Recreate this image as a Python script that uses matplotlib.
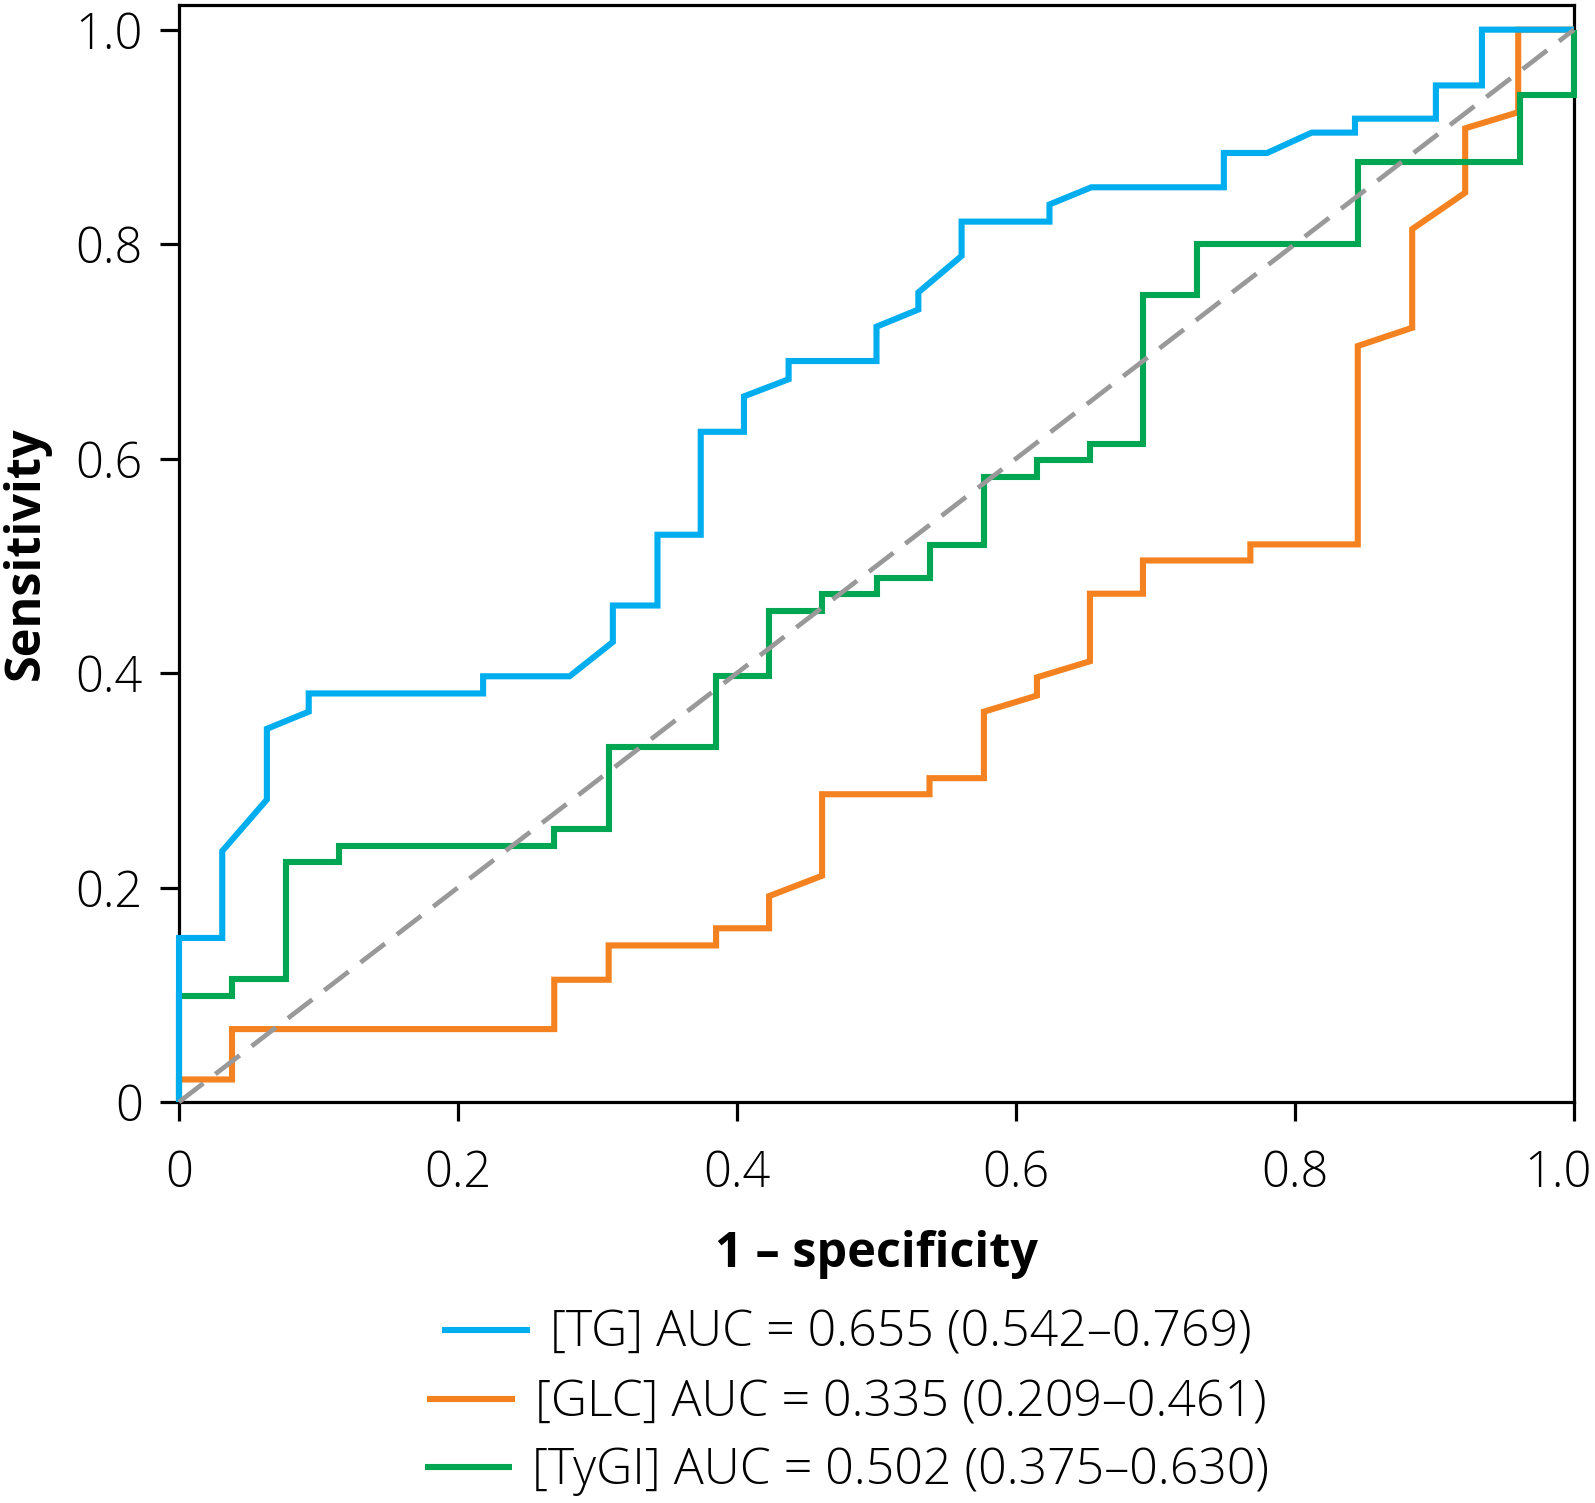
import matplotlib
matplotlib.use("Agg")
import matplotlib.pyplot as plt
from matplotlib.lines import Line2D
from matplotlib.ticker import FuncFormatter
import matplotlib.transforms as mtransforms

# ---------------- data ----------------
tg_fpr = [0, 0, 0.031, 0.031, 0.063, 0.063, 0.093, 0.093, 0.218, 0.218, 0.280,
          0.311, 0.311, 0.343, 0.343, 0.374, 0.374, 0.405, 0.405, 0.437, 0.437,
          0.500, 0.500, 0.530, 0.530, 0.561, 0.561, 0.624, 0.624, 0.654, 0.749,
          0.749, 0.780, 0.812, 0.843, 0.843, 0.901, 0.901, 0.934, 0.934, 1.0]
tg_tpr = [0, 0.153, 0.153, 0.234, 0.282, 0.348, 0.364, 0.381, 0.381, 0.397, 0.397,
          0.429, 0.463, 0.463, 0.529, 0.529, 0.625, 0.625, 0.658, 0.674, 0.691,
          0.691, 0.723, 0.739, 0.755, 0.789, 0.821, 0.821, 0.837, 0.853, 0.853,
          0.885, 0.885, 0.904, 0.904, 0.917, 0.917, 0.948, 0.948, 1.0, 1.0]

glc_fpr = [0, 0, 0.038, 0.038, 0.269, 0.269, 0.308, 0.308, 0.385, 0.385, 0.423,
           0.423, 0.461, 0.461, 0.538, 0.538, 0.577, 0.577, 0.615, 0.615, 0.653,
           0.653, 0.691, 0.691, 0.768, 0.768, 0.845, 0.845, 0.884, 0.884, 0.922,
           0.922, 0.960, 0.960, 1.0]
glc_tpr = [0, 0.021, 0.021, 0.068, 0.068, 0.114, 0.114, 0.146, 0.146, 0.162, 0.162,
           0.192, 0.211, 0.287, 0.287, 0.302, 0.302, 0.364, 0.379, 0.396, 0.411,
           0.474, 0.474, 0.505, 0.505, 0.520, 0.520, 0.705, 0.722, 0.814, 0.848,
           0.908, 0.923, 1.0, 1.0]

tygi_fpr = [0, 0, 0.038, 0.038, 0.077, 0.077, 0.115, 0.115, 0.269, 0.269, 0.308,
            0.308, 0.385, 0.385, 0.423, 0.423, 0.461, 0.461, 0.500, 0.500, 0.538,
            0.538, 0.577, 0.577, 0.615, 0.615, 0.653, 0.653, 0.691, 0.691, 0.730,
            0.730, 0.845, 0.845, 0.961, 0.961, 1.0, 1.0]
tygi_tpr = [0, 0.099, 0.099, 0.115, 0.115, 0.224, 0.224, 0.239, 0.239, 0.255, 0.255,
            0.331, 0.331, 0.397, 0.397, 0.458, 0.458, 0.474, 0.474, 0.489, 0.489,
            0.519, 0.519, 0.583, 0.583, 0.599, 0.599, 0.614, 0.614, 0.753, 0.753,
            0.800, 0.800, 0.877, 0.877, 0.939, 0.939, 1.0]

chance_x = [0, 1]
chance_y = [0, 1]

labels = ["[TG] AUC = 0.655 (0.542\u20130.769)",
          "[GLC] AUC = 0.335 (0.209\u20130.461)",
          "[TyGI] AUC = 0.502 (0.375\u20130.630)"]
colors = ["#00AEEF", "#F58220", "#00A651"]

xticks = [0, 0.2, 0.4, 0.6, 0.8, 1.0]
yticks = [0, 0.2, 0.4, 0.6, 0.8, 1.0]

# ---------------- figure ----------------
W, H = 1595, 1503
DPI = 100
fig = plt.figure(figsize=(W / DPI, H / DPI), dpi=DPI)
ax = fig.add_axes([179 / W, 1 - 1102 / H, (1574 - 179) / W, (1102 - 5) / H])

FONT = ["Open Sans", "DejaVu Sans"]
lw_curve = 4.4
common = dict(solid_joinstyle="miter", solid_capstyle="butt", clip_on=False)
ax.plot(glc_fpr, glc_tpr, color=colors[1], lw=lw_curve, zorder=3, **common)
ax.plot(tygi_fpr, tygi_tpr, color=colors[2], lw=lw_curve, zorder=4, **common)
ax.plot(tg_fpr, tg_tpr, color=colors[0], lw=lw_curve, zorder=5, **common)
ax.plot(chance_x, chance_y, color="#999999", lw=3.4, dashes=(6.5, 3.2),
        zorder=6, clip_on=False)

ax.set_xlim(0, 1)
ax.set_ylim(0, 1.023)
for sp in ax.spines.values():
    sp.set_linewidth(2.3)
    sp.set_color("black")

ax.set_xticks(xticks)
ax.set_yticks(yticks)
fmt = FuncFormatter(lambda v, p: "0" if v == 0 else f"{v:.1f}")
ax.xaxis.set_major_formatter(fmt)
ax.yaxis.set_major_formatter(fmt)
ax.tick_params(axis="both", direction="out", length=14, width=2.3, labelsize=35)
ax.tick_params(axis="x", pad=20)
ax.tick_params(axis="y", pad=12)
for lbl in ax.get_xticklabels() + ax.get_yticklabels():
    lbl.set_family(FONT)
    lbl.set_fontweight("light")
last = ax.get_xticklabels()[-1]
last.set_transform(last.get_transform() +
                   mtransforms.ScaledTranslation(-16 / DPI, 0, fig.dpi_scale_trans))

ax.set_xlabel("1 \u2013 specificity", fontsize=35, fontweight="bold",
              family=FONT, labelpad=22)
ax.set_ylabel("Sensitivity", fontsize=35, fontweight="bold", family=FONT,
              labelpad=18)

# legend: each row centred separately
rows_y = [1 - 1334 / H, 1 - 1403 / H, 1 - 1471 / H]
for lab, col, yy in zip(labels, colors, rows_y):
    h = Line2D([], [], color=col, lw=lw_curve, solid_capstyle="butt")
    leg = fig.legend([h], [lab], loc="center", bbox_to_anchor=(847 / W, yy),
                     frameon=False, handlelength=1.75, handletextpad=0.4,
                     borderpad=0, borderaxespad=0,
                     prop=dict(family=FONT, size=36, weight="light"))

fig.savefig("out.png", dpi=DPI)
